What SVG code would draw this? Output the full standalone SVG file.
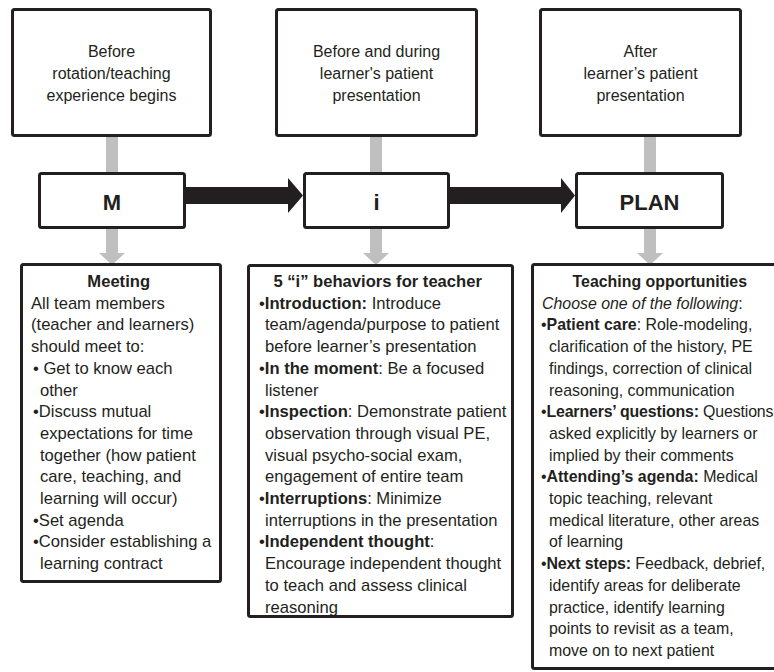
<svg xmlns="http://www.w3.org/2000/svg" width="774" height="672" viewBox="0 0 774 672">
<style>
  .box { fill: #ffffff; stroke: #231f20; stroke-width: 3; }
  .t { font-family: "Liberation Sans", Arial, sans-serif; fill: #231f20; }
  .top { font-size: 16px; text-anchor: middle; }
  .big { font-size: 22px; font-weight: bold; text-anchor: middle; }
  .body { font-size: 16.6px; }
  .bodys { font-size: 15.9px; }
  .b { font-weight: bold; }
  .ttl { font-weight: bold; text-anchor: middle; }
  .gray { fill: #bfbfbf; }
  .black { fill: #231f20; }
</style>
<rect width="774" height="672" fill="#ffffff"/>
<g id="connectors">
  <rect class="gray" x="106" y="136" width="12" height="38"/>
  <rect class="gray" x="370" y="136" width="12" height="38"/>
  <rect class="gray" x="644" y="136" width="12" height="38"/>
  <rect class="gray" x="106" y="228" width="12" height="26"/>
  <polygon class="gray" points="99,253 125,253 112,265"/>
  <rect class="gray" x="370" y="228" width="12" height="26"/>
  <polygon class="gray" points="363,253 389,253 376,265"/>
  <rect class="gray" x="644" y="228" width="12" height="26"/>
  <polygon class="gray" points="637,253 663,253 650,265"/>
  <polygon class="black" points="186,187 288,187 288,178 303,195.5 288,213 288,204 186,204"/>
  <polygon class="black" points="450,187 561,187 561,178 575,195.5 561,213 561,204 450,204"/>
</g>
<g id="before">
  <rect class="box" x="12.5" y="9.5" width="198" height="126" rx="2"/>
  <text class="t top"><tspan x="111.5" y="57">Before</tspan><tspan x="111.5" y="79">rotation/teaching</tspan><tspan x="111.5" y="101">experience begins</tspan></text>
</g>
<g id="during">
  <rect class="box" x="276.5" y="9.5" width="200" height="126" rx="2"/>
  <text class="t top"><tspan x="376.5" y="57">Before and during</tspan><tspan x="376.5" y="79">learner's patient</tspan><tspan x="376.5" y="101">presentation</tspan></text>
</g>
<g id="after">
  <rect class="box" x="540.5" y="9.5" width="200" height="126" rx="2"/>
  <text class="t top"><tspan x="640.5" y="57">After</tspan><tspan x="640.5" y="79">learner’s patient</tspan><tspan x="640.5" y="101">presentation</tspan></text>
</g>
<g id="m">
  <rect class="box" x="39.5" y="173.5" width="145" height="54" rx="2"/>
  <text class="t big" x="112" y="210">M</text>
</g>
<g id="i">
  <rect class="box" x="304.5" y="173.5" width="144" height="54" rx="2"/>
  <text class="t big" x="376.5" y="210">i</text>
</g>
<g id="plan">
  <rect class="box" x="576.5" y="173.5" width="146" height="54" rx="2"/>
  <text class="t big" x="649.5" y="210">PLAN</text>
</g>
<g id="meeting">
  <rect class="box" x="21.5" y="264.5" width="199" height="317" rx="2"/>
  <text class="t body">
    <tspan class="ttl" x="121" y="287">Meeting</tspan>
    <tspan x="31" y="308.7">All team members</tspan>
    <tspan x="31" y="330.4">(teacher and learners)</tspan>
    <tspan x="31" y="352.1">should meet to:</tspan>
    <tspan x="33" y="373.8">• Get to know each</tspan>
    <tspan x="40" y="395.5">other</tspan>
    <tspan x="33" y="417.2">•Discuss mutual</tspan>
    <tspan x="40" y="438.9">expectations for time</tspan>
    <tspan x="40" y="460.6">together (how patient</tspan>
    <tspan x="40" y="482.3">care, teaching, and</tspan>
    <tspan x="40" y="504">learning will occur)</tspan>
    <tspan x="33" y="525.7">•Set agenda</tspan>
    <tspan x="33" y="547.4">•Consider establishing a</tspan>
    <tspan x="40" y="569.1">learning contract</tspan>
  </text>
</g>
<g id="behaviors">
  <rect class="box" x="248.5" y="265.5" width="264" height="351" rx="2"/>
  <text class="t body">
    <tspan class="ttl" x="380" y="287">5 “i” behaviors for teacher</tspan>
    <tspan x="259" y="308.7">•<tspan class="b">Introduction:</tspan> Introduce</tspan>
    <tspan x="265" y="330.4">team/agenda/purpose to patient</tspan>
    <tspan x="265" y="352.1">before learner’s presentation</tspan>
    <tspan x="259" y="373.8">•<tspan class="b">In the moment</tspan>: Be a focused</tspan>
    <tspan x="265" y="395.5">listener</tspan>
    <tspan x="259" y="417.2">•<tspan class="b">Inspection</tspan>: Demonstrate patient</tspan>
    <tspan x="265" y="438.9">observation through visual PE,</tspan>
    <tspan x="265" y="460.6">visual psycho-social exam,</tspan>
    <tspan x="265" y="482.3">engagement of entire team</tspan>
    <tspan x="259" y="504">•<tspan class="b">Interruptions</tspan>: Minimize</tspan>
    <tspan x="265" y="525.7">interruptions in the presentation</tspan>
    <tspan x="259" y="547.4">•<tspan class="b">Independent thought</tspan>:</tspan>
    <tspan x="265" y="569.1">Encourage independent thought</tspan>
    <tspan x="265" y="590.8">to teach and assess clinical</tspan>
    <tspan x="265" y="612.5">reasoning</tspan>
  </text>
</g>
<g id="opportunities">
  <rect class="box" x="532.5" y="264.5" width="260" height="404" rx="2"/>
  <text class="t bodys">
    <tspan class="ttl" x="662" y="287">Teaching opportunities</tspan>
    <tspan x="542" y="308.7" font-style="italic">Choose one of the following</tspan><tspan>:</tspan>
    <tspan x="541" y="330.4">•<tspan class="b">Patient care</tspan>: Role-modeling,</tspan>
    <tspan x="549" y="352.1">clarification of the history, PE</tspan>
    <tspan x="549" y="373.8">findings, correction of clinical</tspan>
    <tspan x="549" y="395.5">reasoning, communication</tspan>
    <tspan x="541" y="417.2" letter-spacing="-0.15">•<tspan class="b">Learners’ questions:</tspan> Questions</tspan>
    <tspan x="549" y="438.9">asked explicitly by learners or</tspan>
    <tspan x="549" y="460.6">implied by their comments</tspan>
    <tspan x="541" y="482.3">•<tspan class="b">Attending’s agenda:</tspan> Medical</tspan>
    <tspan x="549" y="504">topic teaching, relevant</tspan>
    <tspan x="549" y="525.7">medical literature, other areas</tspan>
    <tspan x="549" y="547.4">of learning</tspan>
    <tspan x="541" y="569.1" letter-spacing="-0.1">•<tspan class="b">Next steps:</tspan> Feedback, debrief,</tspan>
    <tspan x="549" y="590.8">identify areas for deliberate</tspan>
    <tspan x="549" y="612.5">practice, identify learning</tspan>
    <tspan x="549" y="634.2">points to revisit as a team,</tspan>
    <tspan x="549" y="655.9">move on to next patient</tspan>
  </text>
</g>
</svg>
